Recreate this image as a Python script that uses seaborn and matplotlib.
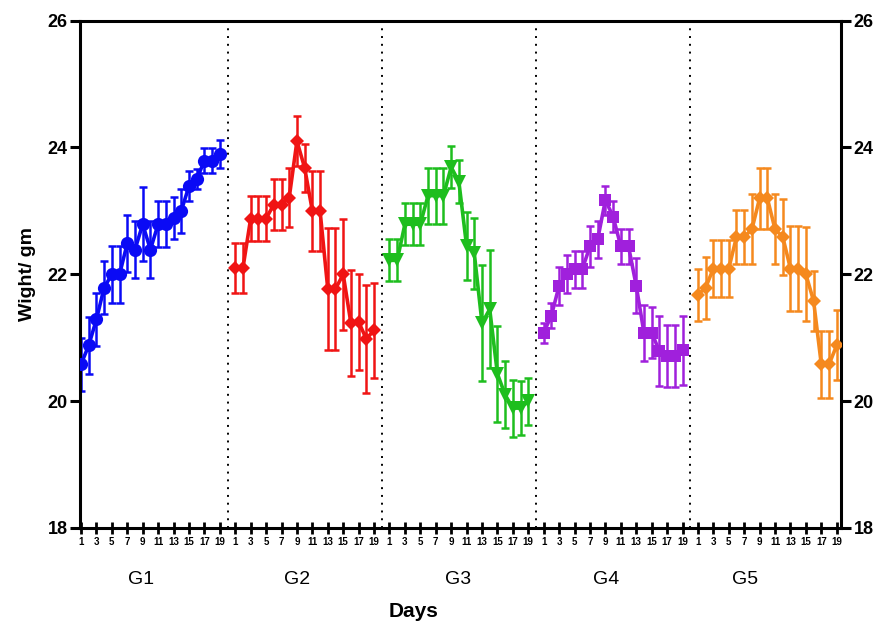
import numpy as np
import pandas as pd
import matplotlib
matplotlib.use("Agg")
import matplotlib.pyplot as plt
import matplotlib.transforms as mtransforms
import seaborn as sns

# ---------------- data ----------------
days = list(range(1, 20))
groups = ["G1", "G2", "G3", "G4", "G5"]
day_tick_labels = [str(d) for d in range(1, 20, 2)]

g1_mean = [20.58, 20.88, 21.29, 21.79, 22.0, 22.0, 22.49, 22.39, 22.79, 22.39,
           22.79, 22.79, 22.89, 23.0, 23.39, 23.5, 23.79, 23.79, 23.89]
g1_err = [0.42, 0.45, 0.42, 0.42, 0.45, 0.45, 0.45, 0.45, 0.58, 0.45,
          0.36, 0.36, 0.33, 0.35, 0.24, 0.16, 0.2, 0.2, 0.22]

g2_mean = [22.1, 22.1, 22.88, 22.88, 22.88, 23.1, 23.1, 23.21, 24.1, 23.68,
           23.0, 23.0, 21.77, 21.77, 22.0, 21.23, 21.25, 20.98, 21.12]
g2_err = [0.4, 0.4, 0.36, 0.36, 0.36, 0.4, 0.4, 0.47, 0.4, 0.38,
          0.63, 0.63, 0.96, 0.96, 0.88, 0.84, 0.76, 0.85, 0.75]

g3_mean = [22.22, 22.22, 22.79, 22.79, 22.79, 23.24, 23.24, 23.24, 23.69, 23.46,
           22.45, 22.33, 21.23, 21.45, 20.43, 20.1, 19.89, 19.89, 20.0]
g3_err = [0.33, 0.33, 0.33, 0.33, 0.33, 0.44, 0.44, 0.44, 0.33, 0.34,
          0.54, 0.56, 0.92, 0.93, 0.76, 0.53, 0.45, 0.42, 0.37]

g4_mean = [21.08, 21.35, 21.82, 22.0, 22.08, 22.08, 22.44, 22.55, 23.17, 22.91,
           22.44, 22.44, 21.82, 21.08, 21.08, 20.79, 20.71, 20.71, 20.8]
g4_err = [0.16, 0.2, 0.3, 0.3, 0.29, 0.29, 0.32, 0.29, 0.23, 0.24,
          0.28, 0.28, 0.43, 0.44, 0.4, 0.55, 0.49, 0.49, 0.54]

g5_mean = [21.68, 21.79, 22.09, 22.09, 22.09, 22.59, 22.59, 22.71, 23.2, 23.2,
           22.71, 22.59, 22.09, 22.09, 22.0, 21.58, 20.58, 20.58, 20.88]
g5_err = [0.41, 0.49, 0.45, 0.45, 0.45, 0.43, 0.43, 0.55, 0.48, 0.48,
          0.55, 0.6, 0.67, 0.67, 0.74, 0.48, 0.53, 0.53, 0.55]

means = [g1_mean, g2_mean, g3_mean, g4_mean, g5_mean]
errs = [g1_err, g2_err, g3_err, g4_err, g5_err]

# ---------------- style ----------------
colors = {"G1": "#0A0AF5", "G2": "#F01414", "G3": "#1EBE1E",
          "G4": "#A020DC", "G5": "#F5891E"}
markers = {"G1": "o", "G2": "D", "G3": "v", "G4": "s", "G5": "D"}
msizes = {"G1": 9.5, "G2": 7.5, "G3": 9.5, "G4": 9, "G5": 7.5}

sns.set_style("ticks")
plt.rcParams["font.family"] = ["Liberation Sans", "DejaVu Sans"]
plt.rcParams["text.color"] = "black"
plt.rcParams["axes.labelcolor"] = "black"
plt.rcParams["xtick.color"] = "black"
plt.rcParams["ytick.color"] = "black"

GROUP_STEP = 20  # day slots per group (19 days + gap)

rows = []
for gi, g in enumerate(groups):
    for d, m, e in zip(days, means[gi], errs[gi]):
        rows.append({"group": g, "day": d, "x": gi * GROUP_STEP + d,
                     "weight": m, "err": e})
df = pd.DataFrame(rows)

fig = plt.figure(figsize=(8.9, 6.25), dpi=100)
ax = fig.add_axes([0.0899, 0.1552, 0.945 - 0.0899, 0.967 - 0.1552])

# dotted separators between groups
for gi in range(1, len(groups)):
    ax.axvline(gi * GROUP_STEP, color="black", linestyle=(0, (1, 3)),
               linewidth=1.4, zorder=1)

# error bars
for g in groups:
    sub = df[df["group"] == g]
    ax.errorbar(sub["x"], sub["weight"], yerr=sub["err"], fmt="none",
                ecolor=colors[g], elinewidth=1.8, capsize=3, capthick=1.8,
                zorder=2)

# lines + markers via seaborn
for g in groups:
    sub = df[df["group"] == g]
    sns.lineplot(data=sub, x="x", y="weight", color=colors[g],
                 marker=markers[g], markersize=msizes[g], markeredgewidth=0,
                 linewidth=2.6, errorbar=None, sort=False, legend=False,
                 ax=ax, zorder=3)

# axes limits / ticks
ax.set_xlim(0.87, 99.56)
ax.set_ylim(18, 26)
ax.set_yticks([18, 20, 22, 24, 26])
ax.set_yticklabels(["18", "20", "22", "24", "26"], fontsize=13, fontweight="bold")

xt, xl = [], []
for gi in range(len(groups)):
    for lab in day_tick_labels:
        xt.append(gi * GROUP_STEP + int(lab))
        xl.append(lab)
ax.set_xticks(xt)
ax.set_xticklabels(xl, fontsize=7, fontweight="bold")

for s in ax.spines.values():
    s.set_visible(True)
    s.set_linewidth(2.2)
    s.set_color("black")

ax.tick_params(axis="y", which="major", direction="out", length=7, width=2.2,
               left=True, right=True, labelleft=True, labelright=True, pad=2,
               colors="black", labelcolor="black")
ax.tick_params(axis="x", which="major", direction="inout", length=9, width=2.0,
               pad=2, colors="black", labelcolor="black")

ax.set_xlabel("")
ax.set_ylabel("Wight/ gm", fontsize=14, fontweight="bold", labelpad=8,
              color="black")

# group labels under the axis
trans = mtransforms.blended_transform_factory(ax.transData, ax.transAxes)
group_label_x = [8.8, 29.0, 49.9, 69.1, 87.1]
for g, gx in zip(groups, group_label_x):
    ax.text(gx, -0.101, g, transform=trans, ha="center", va="center",
            fontsize=14, color="black")

fig.text(0.465, 0.022, "Days", ha="center", va="center", fontsize=15,
         fontweight="bold", color="black")

fig.savefig("out.png", dpi=100)
